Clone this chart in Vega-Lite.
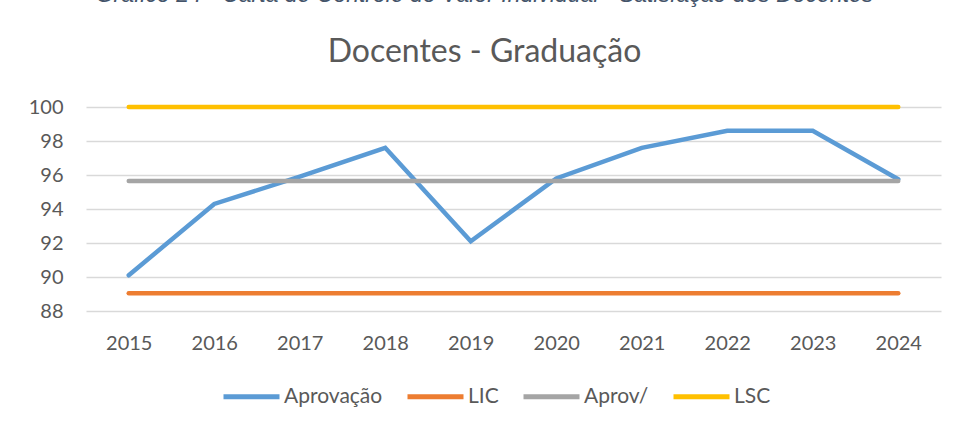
{
  "$schema": "https://vega.github.io/schema/vega-lite/v6.json",
  "width": 855,
  "height": 204,
  "autosize": {"type": "none"},
  "padding": {"left": 86, "top": 107, "right": 16, "bottom": 114},
  "background": "white",
  "title": {
    "text": "Gráfico 24 - Carta de Controle do Valor Individual - Satisfação dos Docentes",
    "subtitle": "Docentes - Graduação",
    "anchor": "middle",
    "dx": -29,
    "offset": 29,
    "font": "Liberation Sans",
    "fontStyle": "italic",
    "fontWeight": "normal",
    "fontSize": 23,
    "color": "#44546A",
    "subtitleFont": "Lato",
    "subtitleFontSize": 32,
    "subtitleColor": "#595959",
    "subtitlePadding": 30
  },
  "config": {
    "view": {"stroke": null},
    "axis": {"labelFont": "Lato", "labelColor": "#595959", "labelFontSize": 20}
  },
  "data": {
    "values": [
      {"ano": "2015", "serie": "Aprovação", "valor": 90.1},
      {"ano": "2016", "serie": "Aprovação", "valor": 94.3},
      {"ano": "2017", "serie": "Aprovação", "valor": 95.9},
      {"ano": "2018", "serie": "Aprovação", "valor": 97.6},
      {"ano": "2019", "serie": "Aprovação", "valor": 92.1},
      {"ano": "2020", "serie": "Aprovação", "valor": 95.8},
      {"ano": "2021", "serie": "Aprovação", "valor": 97.6},
      {"ano": "2022", "serie": "Aprovação", "valor": 98.6},
      {"ano": "2023", "serie": "Aprovação", "valor": 98.6},
      {"ano": "2024", "serie": "Aprovação", "valor": 95.75},
      {"ano": "2015", "serie": "LIC", "valor": 89.05},
      {"ano": "2016", "serie": "LIC", "valor": 89.05},
      {"ano": "2017", "serie": "LIC", "valor": 89.05},
      {"ano": "2018", "serie": "LIC", "valor": 89.05},
      {"ano": "2019", "serie": "LIC", "valor": 89.05},
      {"ano": "2020", "serie": "LIC", "valor": 89.05},
      {"ano": "2021", "serie": "LIC", "valor": 89.05},
      {"ano": "2022", "serie": "LIC", "valor": 89.05},
      {"ano": "2023", "serie": "LIC", "valor": 89.05},
      {"ano": "2024", "serie": "LIC", "valor": 89.05},
      {"ano": "2015", "serie": "Aprov/", "valor": 95.64},
      {"ano": "2016", "serie": "Aprov/", "valor": 95.64},
      {"ano": "2017", "serie": "Aprov/", "valor": 95.64},
      {"ano": "2018", "serie": "Aprov/", "valor": 95.64},
      {"ano": "2019", "serie": "Aprov/", "valor": 95.64},
      {"ano": "2020", "serie": "Aprov/", "valor": 95.64},
      {"ano": "2021", "serie": "Aprov/", "valor": 95.64},
      {"ano": "2022", "serie": "Aprov/", "valor": 95.64},
      {"ano": "2023", "serie": "Aprov/", "valor": 95.64},
      {"ano": "2024", "serie": "Aprov/", "valor": 95.64},
      {"ano": "2015", "serie": "LSC", "valor": 100},
      {"ano": "2016", "serie": "LSC", "valor": 100},
      {"ano": "2017", "serie": "LSC", "valor": 100},
      {"ano": "2018", "serie": "LSC", "valor": 100},
      {"ano": "2019", "serie": "LSC", "valor": 100},
      {"ano": "2020", "serie": "LSC", "valor": 100},
      {"ano": "2021", "serie": "LSC", "valor": 100},
      {"ano": "2022", "serie": "LSC", "valor": 100},
      {"ano": "2023", "serie": "LSC", "valor": 100},
      {"ano": "2024", "serie": "LSC", "valor": 100}
    ]
  },
  "mark": {"type": "line", "strokeWidth": 4.5, "strokeCap": "round"},
  "encoding": {
    "x": {
      "field": "ano",
      "type": "ordinal",
      "scale": {"type": "point", "padding": 0.5},
      "axis": {"title": null, "domain": false, "ticks": false, "tickSize": 0, "labelPadding": 22, "labelAngle": 0, "grid": false}
    },
    "y": {
      "field": "valor",
      "type": "quantitative",
      "scale": {"domain": [88, 100], "nice": false, "zero": false},
      "axis": {"title": null, "domain": false, "ticks": false, "tickSize": 0, "labelPadding": 23, "values": [88, 90, 92, 94, 96, 98, 100], "grid": true, "gridColor": "#D9D9D9", "gridWidth": 1.3}
    },
    "color": {
      "field": "serie",
      "type": "nominal",
      "scale": {"domain": ["Aprovação", "LIC", "Aprov/", "LSC"], "range": ["#5B9BD5", "#ED7D31", "#A5A5A5", "#FFC000"]},
      "legend": {
        "title": null,
        "orient": "none",
        "legendX": 135,
        "legendY": 259,
        "direction": "horizontal",
        "padding": 0,
        "symbolType": "stroke",
        "symbolSize": 3136,
        "symbolStrokeWidth": 5,
        "labelFont": "Lato",
        "labelFontSize": 21,
        "labelColor": "#595959",
        "labelOffset": 2,
        "columnPadding": 14
      }
    }
  }
}
